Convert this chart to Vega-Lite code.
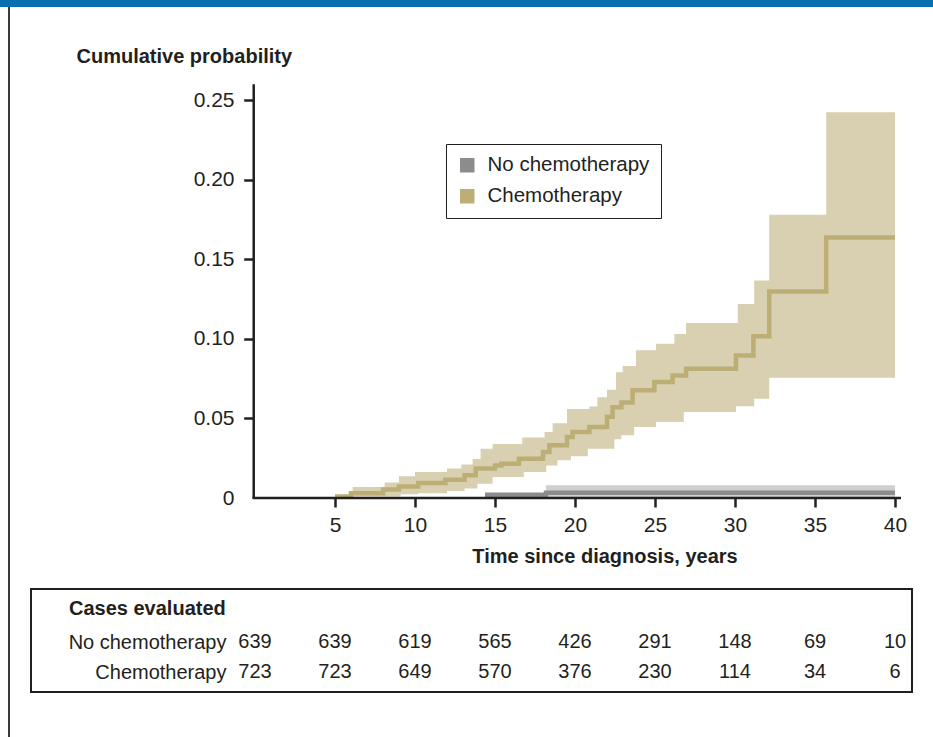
{
  "$schema": "https://vega.github.io/schema/vega-lite/v6.json",
  "padding": 0,
  "background": "white",
  "spacing": 0,
  "config": {
    "font": "Liberation Sans",
    "view": {"stroke": null},
    "axis": {"labelColor": "#231f20", "titleColor": "#231f20", "tickColor": "#231f20", "grid": false}
  },
  "datasets": {
    "est": [
      {"group": "No chemotherapy", "t": 14.375, "est": 0.0021},
      {"group": "No chemotherapy", "t": 18.19, "est": 0.0033},
      {"group": "No chemotherapy", "t": 40, "est": 0.0033},
      {"group": "Chemotherapy", "t": 5.0, "est": 0.001},
      {"group": "Chemotherapy", "t": 6.0, "est": 0.003},
      {"group": "Chemotherapy", "t": 8.0, "est": 0.0053},
      {"group": "Chemotherapy", "t": 9.0, "est": 0.0073},
      {"group": "Chemotherapy", "t": 10.2, "est": 0.0094},
      {"group": "Chemotherapy", "t": 11.9, "est": 0.0115},
      {"group": "Chemotherapy", "t": 13.1, "est": 0.0143},
      {"group": "Chemotherapy", "t": 13.8, "est": 0.0185},
      {"group": "Chemotherapy", "t": 15.0, "est": 0.0205},
      {"group": "Chemotherapy", "t": 15.4, "est": 0.0215},
      {"group": "Chemotherapy", "t": 16.5, "est": 0.0247},
      {"group": "Chemotherapy", "t": 18.0, "est": 0.0289},
      {"group": "Chemotherapy", "t": 18.4, "est": 0.0331},
      {"group": "Chemotherapy", "t": 19.5, "est": 0.0383},
      {"group": "Chemotherapy", "t": 19.85, "est": 0.0415},
      {"group": "Chemotherapy", "t": 20.9, "est": 0.0446},
      {"group": "Chemotherapy", "t": 22.0, "est": 0.051},
      {"group": "Chemotherapy", "t": 22.35, "est": 0.057},
      {"group": "Chemotherapy", "t": 22.9, "est": 0.060},
      {"group": "Chemotherapy", "t": 23.6, "est": 0.0677},
      {"group": "Chemotherapy", "t": 24.96, "est": 0.0729},
      {"group": "Chemotherapy", "t": 26.1, "est": 0.077},
      {"group": "Chemotherapy", "t": 26.94, "est": 0.0813},
      {"group": "Chemotherapy", "t": 30.06, "est": 0.0896},
      {"group": "Chemotherapy", "t": 31.15, "est": 0.1016},
      {"group": "Chemotherapy", "t": 32.14, "est": 0.1298},
      {"group": "Chemotherapy", "t": 35.7, "est": 0.1637},
      {"group": "Chemotherapy", "t": 40.0, "est": 0.1637}
    ],
    "band": [
      {"group": "No chemotherapy", "t": 18.19, "lo": 0, "hi": 0.008},
      {"group": "No chemotherapy", "t": 40, "lo": 0, "hi": 0.008},
      {"group": "Chemotherapy", "t": 5.0, "lo": 0.0, "hi": 0.0017},
      {"group": "Chemotherapy", "t": 6.0, "lo": 0.001, "hi": 0.0017},
      {"group": "Chemotherapy", "t": 6.1, "lo": 0.001, "hi": 0.0069},
      {"group": "Chemotherapy", "t": 8.1, "lo": 0.001, "hi": 0.0097},
      {"group": "Chemotherapy", "t": 9.0, "lo": 0.001, "hi": 0.0136},
      {"group": "Chemotherapy", "t": 9.1, "lo": 0.0023, "hi": 0.0136},
      {"group": "Chemotherapy", "t": 10.0, "lo": 0.0023, "hi": 0.0163},
      {"group": "Chemotherapy", "t": 10.2, "lo": 0.003, "hi": 0.0163},
      {"group": "Chemotherapy", "t": 12.0, "lo": 0.0044, "hi": 0.0185},
      {"group": "Chemotherapy", "t": 12.9, "lo": 0.0044, "hi": 0.021},
      {"group": "Chemotherapy", "t": 13.1, "lo": 0.0059, "hi": 0.021},
      {"group": "Chemotherapy", "t": 13.6, "lo": 0.0059, "hi": 0.0245},
      {"group": "Chemotherapy", "t": 13.9, "lo": 0.009, "hi": 0.0245},
      {"group": "Chemotherapy", "t": 14.1, "lo": 0.009, "hi": 0.031},
      {"group": "Chemotherapy", "t": 14.85, "lo": 0.0132, "hi": 0.034},
      {"group": "Chemotherapy", "t": 16.7, "lo": 0.0132, "hi": 0.038},
      {"group": "Chemotherapy", "t": 16.8, "lo": 0.0163, "hi": 0.038},
      {"group": "Chemotherapy", "t": 18.1, "lo": 0.0163, "hi": 0.0415},
      {"group": "Chemotherapy", "t": 18.2, "lo": 0.0205, "hi": 0.0415},
      {"group": "Chemotherapy", "t": 18.6, "lo": 0.0205, "hi": 0.047},
      {"group": "Chemotherapy", "t": 18.9, "lo": 0.0237, "hi": 0.047},
      {"group": "Chemotherapy", "t": 19.5, "lo": 0.0237, "hi": 0.056},
      {"group": "Chemotherapy", "t": 19.75, "lo": 0.0262, "hi": 0.056},
      {"group": "Chemotherapy", "t": 20.8, "lo": 0.031, "hi": 0.056},
      {"group": "Chemotherapy", "t": 20.9, "lo": 0.031, "hi": 0.0575},
      {"group": "Chemotherapy", "t": 21.4, "lo": 0.031, "hi": 0.0634},
      {"group": "Chemotherapy", "t": 22.0, "lo": 0.031, "hi": 0.068},
      {"group": "Chemotherapy", "t": 22.46, "lo": 0.037, "hi": 0.068},
      {"group": "Chemotherapy", "t": 22.56, "lo": 0.037, "hi": 0.079},
      {"group": "Chemotherapy", "t": 22.9, "lo": 0.0394, "hi": 0.079},
      {"group": "Chemotherapy", "t": 22.98, "lo": 0.0394, "hi": 0.083},
      {"group": "Chemotherapy", "t": 23.7, "lo": 0.0446, "hi": 0.083},
      {"group": "Chemotherapy", "t": 23.81, "lo": 0.0446, "hi": 0.0928},
      {"group": "Chemotherapy", "t": 25.06, "lo": 0.0477, "hi": 0.097},
      {"group": "Chemotherapy", "t": 26.21, "lo": 0.0477, "hi": 0.103},
      {"group": "Chemotherapy", "t": 26.8, "lo": 0.054, "hi": 0.103},
      {"group": "Chemotherapy", "t": 26.94, "lo": 0.054, "hi": 0.110},
      {"group": "Chemotherapy", "t": 30.06, "lo": 0.0576, "hi": 0.110},
      {"group": "Chemotherapy", "t": 30.17, "lo": 0.0576, "hi": 0.122},
      {"group": "Chemotherapy", "t": 31.2, "lo": 0.0624, "hi": 0.1367},
      {"group": "Chemotherapy", "t": 32.14, "lo": 0.0756, "hi": 0.178},
      {"group": "Chemotherapy", "t": 35.7, "lo": 0.0756, "hi": 0.2425},
      {"group": "Chemotherapy", "t": 40.0, "lo": 0.0756, "hi": 0.2425}
    ],
    "cases": [
      {"group": "No chemotherapy", "t": 0, "n": 639},
      {"group": "No chemotherapy", "t": 5, "n": 639},
      {"group": "No chemotherapy", "t": 10, "n": 619},
      {"group": "No chemotherapy", "t": 15, "n": 565},
      {"group": "No chemotherapy", "t": 20, "n": 426},
      {"group": "No chemotherapy", "t": 25, "n": 291},
      {"group": "No chemotherapy", "t": 30, "n": 148},
      {"group": "No chemotherapy", "t": 35, "n": 69},
      {"group": "No chemotherapy", "t": 40, "n": 10},
      {"group": "Chemotherapy", "t": 0, "n": 723},
      {"group": "Chemotherapy", "t": 5, "n": 723},
      {"group": "Chemotherapy", "t": 10, "n": 649},
      {"group": "Chemotherapy", "t": 15, "n": 570},
      {"group": "Chemotherapy", "t": 20, "n": 376},
      {"group": "Chemotherapy", "t": 25, "n": 230},
      {"group": "Chemotherapy", "t": 30, "n": 114},
      {"group": "Chemotherapy", "t": 35, "n": 34},
      {"group": "Chemotherapy", "t": 40, "n": 6}
    ]
  },
  "vconcat": [
    {
      "width": 933, "height": 7,
      "view": {"fill": "#0a6fb1", "stroke": null},
      "data": {"values": []},
      "mark": "point"
    },
    {
      "spacing": 0,
      "hconcat": [
        {"width": 8, "height": 730, "view": {"stroke": null}, "data": {"values": []}, "mark": "point"},
        {"width": 2, "height": 730, "view": {"fill": "#3a3a3a", "stroke": null}, "data": {"values": []}, "mark": "point"},
        {"width": 20, "height": 730, "view": {"stroke": null}, "data": {"values": []}, "mark": "point"},
        {
          "spacing": 21,
          "vconcat": [
            {
              "width": 881, "height": 491,
              "view": {"stroke": null},
              "layer": [
                {
                  "data": {"name": "band"},
                  "mark": {"type": "area", "interpolate": "step-after"},
                  "encoding": {
                    "x": {"field": "t", "type": "quantitative",
                      "scale": {"domain": [-14, 41.0625], "nice": false, "zero": false},
                      "axis": {"values": [5, 10, 15, 20, 25, 30, 35, 40], "domain": false, "tickSize": 9, "tickWidth": 2.5,
                        "labelFontSize": 21, "labelPadding": 7, "labelFlush": false,
                        "title": "Time since diagnosis, years", "titleFontSize": 20, "titleFontWeight": "bold",
                        "titleX": 573.5, "titleY": 64.7, "titleBaseline": "alphabetic", "titleAlign": "center"}},
                    "y": {"field": "lo", "type": "quantitative",
                      "scale": {"domain": [0, 0.3086], "nice": false, "zero": false},
                      "axis": {"values": [0, 0.05, 0.1, 0.15, 0.2, 0.25], "offset": -222.7, "domain": false,
                        "tickSize": 10, "tickWidth": 2.5,
                        "tickOpacity": {"condition": {"test": "datum.value === 0", "value": 0}, "value": 1},
                        "labelExpr": "datum.value === 0 ? '0' : format(datum.value, '.2f')",
                        "labelFontSize": 21, "labelPadding": 9.7, "labelFlush": false,
                        "title": "Cumulative probability", "titleAngle": 0, "titleAlign": "left", "titleBaseline": "alphabetic",
                        "titleX": -177.7, "titleY": 55, "titleFontSize": 20, "titleFontWeight": "bold"}},
                    "y2": {"field": "hi"},
                    "fill": {"field": "group", "type": "nominal",
                      "scale": {"domain": ["Chemotherapy", "No chemotherapy"], "range": ["#d9d0b1", "#cfcfcf"]},
                      "legend": null}
                  }
                },
                {
                  "data": {"name": "est"},
                  "mark": {"type": "line", "interpolate": "step-after", "strokeCap": "butt"},
                  "encoding": {
                    "x": {"field": "t", "type": "quantitative"},
                    "y": {"field": "est", "type": "quantitative"},
                    "strokeWidth": {"value": 4.5},
                    "color": {"field": "group", "type": "nominal",
                      "scale": {"domain": ["No chemotherapy", "Chemotherapy"], "range": ["#8c8c8c", "#bcae74"]},
                      "legend": {"title": null, "orient": "none", "legendX": 446, "legendY": 144,
                        "symbolType": "square", "symbolSize": 210, "symbolStrokeWidth": 0,
                        "labelFontSize": 20.5, "labelColor": "#231f20", "labelLimit": 400,
                        "labelOffset": 10, "rowPadding": 10, "padding": 11,
                        "strokeColor": "#231f20", "fillColor": "white",
                        "labelExpr": "datum.label + '\u00a0\u00a0\u00a0\u00a0\u00a0'",
                        "encode": {"symbols": {"update": {
                          "fill": {"signal": "datum.value === 'Chemotherapy' ? '#bcae74' : '#8c8c8c'"},
                          "fillOpacity": {"value": 1},
                          "stroke": {"value": "transparent"},
                          "strokeWidth": {"value": 0}}}}}
                    }
                  }
                },
                {
                  "data": {"values": [{}]},
                  "mark": {"type": "rule", "strokeWidth": 2.5, "color": "#231f20"},
                  "encoding": {"x": {"datum": -0.16}, "x2": {"datum": 40.375}, "y": {"datum": 0}}
                },
                {
                  "data": {"values": [{}]},
                  "mark": {"type": "rule", "strokeWidth": 2.5, "color": "#231f20"},
                  "encoding": {"x": {"datum": -0.08}, "y": {"datum": 0}, "y2": {"datum": 0.26}}
                }
              ]
            },
            {
              "width": 881, "height": 103,
              "view": {"stroke": "#231f20", "strokeWidth": 2},
              "title": {"text": "Cases evaluated", "anchor": "start", "frame": "group", "orient": "top", "offset": -26, "dx": 38, "dy": 20,
                "baseline": "alphabetic", "fontSize": 20, "fontWeight": "bold", "color": "#231f20"},
              "data": {"name": "cases"},
              "mark": {"type": "text", "fontSize": 20, "baseline": "alphabetic", "align": "center", "color": "#231f20"},
              "encoding": {
                "x": {"field": "t", "type": "quantitative", "scale": {"domain": [-14, 41.0625], "nice": false, "zero": false}, "axis": null},
                "y": {"field": "group", "type": "nominal",
                  "scale": {"type": "point", "padding": 0, "domain": ["No chemotherapy", "Chemotherapy"], "range": [59, 89]},
                  "axis": {"orient": "left", "offset": -197, "domain": false, "ticks": false, "tickSize": 0,
                    "labelPadding": 2, "labelFontSize": 20, "labelBaseline": "alphabetic", "labelAlign": "right", "title": null}},
                "text": {"field": "n", "type": "quantitative"}
              }
            }
          ]
        }
      ]
    }
  ]
}
